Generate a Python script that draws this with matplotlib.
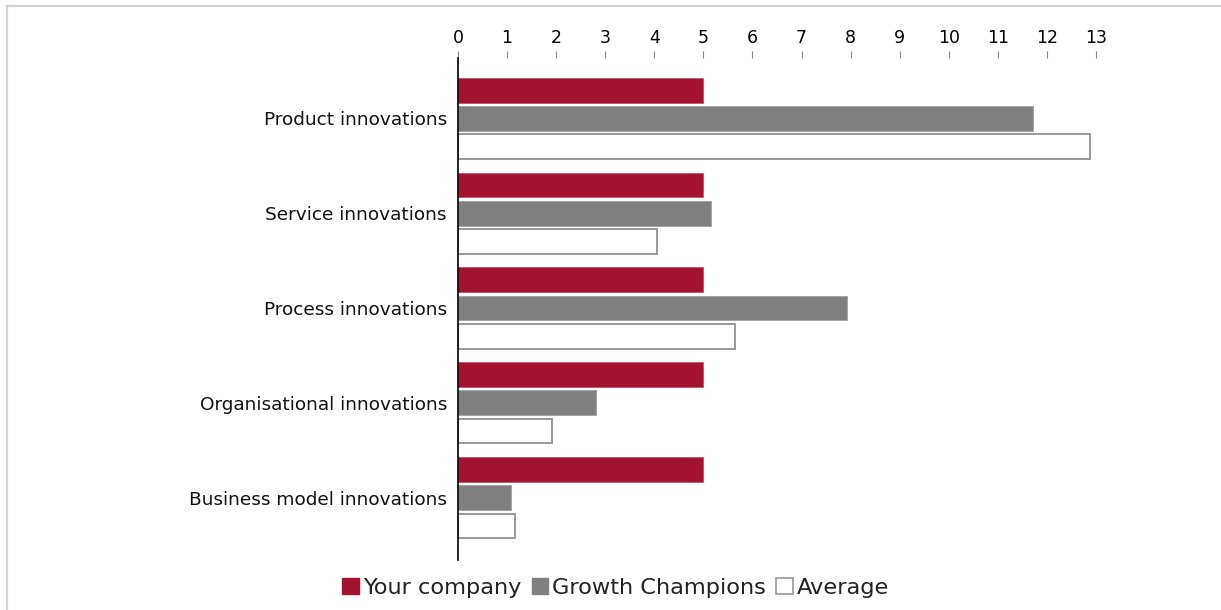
import matplotlib
matplotlib.use("Agg")
import matplotlib.pyplot as plt
from matplotlib.patches import Patch
from matplotlib.lines import Line2D
import numpy as np

categories = ["Product innovations", "Service innovations", "Process innovations",
              "Organisational innovations", "Business model innovations"]
your_company = [5, 5, 5, 5, 5]
growth_champions = [11.72, 5.15, 7.93, 2.81, 1.08]
average = [12.88, 4.05, 5.64, 1.92, 1.16]
x_ticks = list(range(0, 14))
series_names = ["Your company", "Growth Champions", "Average"]

RED = "#A31231"
GRAY = "#808080"
EDGE = "#999999"

fig = plt.figure(figsize=(12.21, 6.10), dpi=100)
W, H = 1221, 610

# light frame along the top and left edges
fig.add_artist(Line2D([7 / W, 1], [1 - 6 / H, 1 - 6 / H], color="#d3d3d3", lw=1.6))
fig.add_artist(Line2D([7 / W, 7 / W], [0, 1 - 6 / H], color="#d3d3d3", lw=1.6))

ax = fig.add_axes([458 / W, 1 - 560 / H, (1096 - 458) / W, (560 - 58) / H])

y = np.arange(len(categories))
h = 0.263
step = 0.295
ax.barh(y - step, your_company, height=h, color=RED, edgecolor="#c05070", linewidth=0.6)
ax.barh(y, growth_champions, height=h, color=GRAY, edgecolor="#a0a0a0", linewidth=0.6)
ax.barh(y + step, average, height=h, color="white", edgecolor=EDGE, linewidth=1.4)

ax.set_xlim(0, 13)
ax.set_ylim(4.653, -0.632)

for s in ["top", "right", "bottom"]:
    ax.spines[s].set_visible(False)
ax.spines["left"].set_color("black")
ax.spines["left"].set_linewidth(1.2)

ax.xaxis.tick_top()
ax.set_xticks(x_ticks)
ax.set_xticklabels([str(t) for t in x_ticks])
ax.tick_params(axis="x", direction="out", length=5, width=0.8, color="#888888",
               pad=3, labelsize=12.5, labelcolor="black")

ax.set_yticks(y)
ax.set_yticklabels(categories)
ax.tick_params(axis="y", length=0, pad=8, labelsize=13.3, labelcolor="#111111")

handles = [Patch(facecolor=RED, edgecolor=RED),
           Patch(facecolor=GRAY, edgecolor=GRAY),
           Patch(facecolor="white", edgecolor=EDGE, linewidth=1.2)]
fig.legend(handles, series_names, loc="center", bbox_to_anchor=(616 / W, 1 - 588 / H),
           ncol=3, frameon=False, fontsize=16.2, handlelength=0.72, handleheight=0.72,
           handletextpad=0.2, columnspacing=0.45, labelcolor="#222222")

fig.savefig("out.png", dpi=100, facecolor="white")
